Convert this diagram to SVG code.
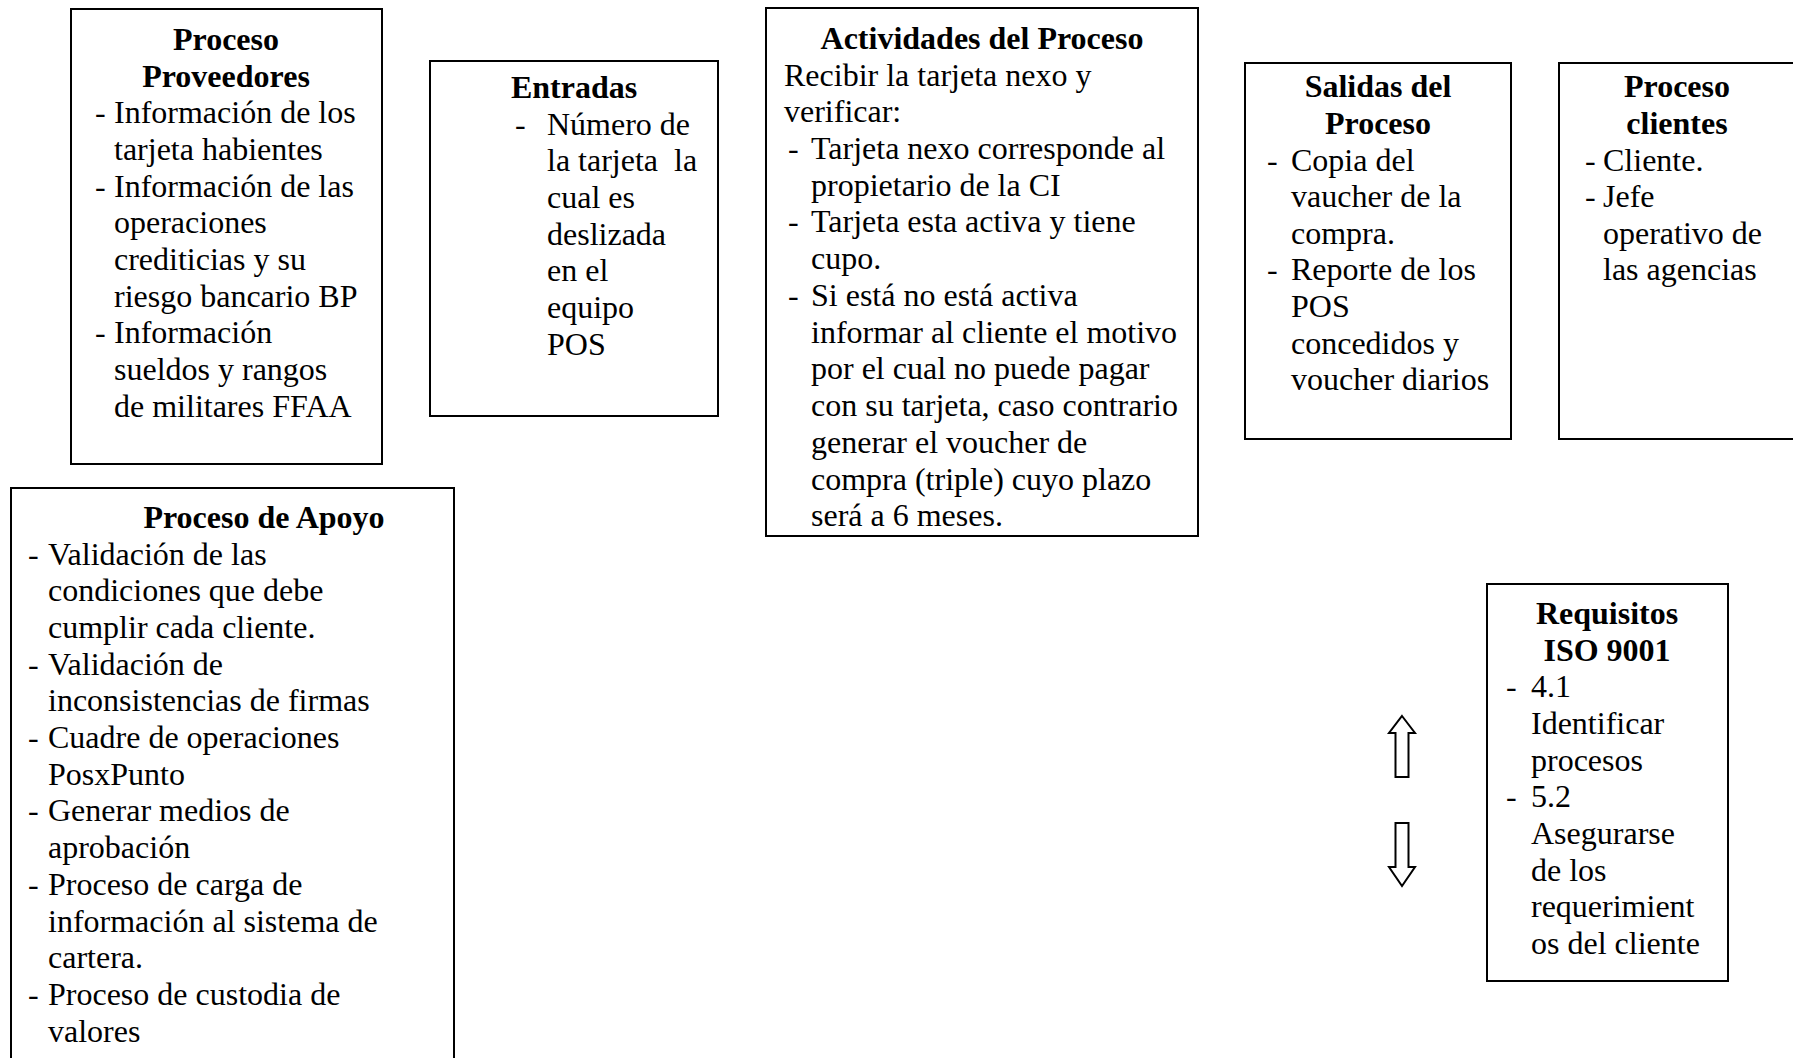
<svg xmlns="http://www.w3.org/2000/svg" width="1793" height="1058" viewBox="0 0 1793 1058">
  <style>
    .box { fill: #ffffff; stroke: #000000; stroke-width: 2; }
    text { font-family: "Liberation Serif", "Times New Roman", serif; font-size: 32px; fill: #000000; }
    .h { font-weight: bold; text-anchor: middle; }
    .arrow { fill: #ffffff; stroke: #000000; stroke-width: 2; stroke-linejoin: miter; }
  </style>
  <rect width="1793" height="1058" fill="#ffffff"/>

  <!-- Proceso Proveedores -->
  <g id="proveedores">
    <rect class="box" x="71" y="9" width="311" height="455"/>
    <text class="h" x="226" y="50">Proceso</text>
    <text class="h" x="226" y="87">Proveedores</text>
    <text x="95" y="123">-</text><text x="114" y="123">Información de los</text>
    <text x="114" y="160">tarjeta habientes</text>
    <text x="95" y="197">-</text><text x="114" y="197">Información de las</text>
    <text x="114" y="233">operaciones</text>
    <text x="114" y="270">crediticias y su</text>
    <text x="114" y="307">riesgo bancario BP</text>
    <text x="95" y="343">-</text><text x="114" y="343">Información</text>
    <text x="114" y="380">sueldos y rangos</text>
    <text x="114" y="417">de militares FFAA</text>
  </g>

  <!-- Entradas -->
  <g id="entradas">
    <rect class="box" x="430" y="61" width="288" height="355"/>
    <text class="h" x="574" y="98">Entradas</text>
    <text x="515" y="135">-</text><text x="547" y="135">Número de</text>
    <text x="547" y="171">la tarjeta&#160; la</text>
    <text x="547" y="208">cual es</text>
    <text x="547" y="245">deslizada</text>
    <text x="547" y="281">en el</text>
    <text x="547" y="318">equipo</text>
    <text x="547" y="355">POS</text>
  </g>

  <!-- Actividades del Proceso -->
  <g id="actividades">
    <rect class="box" x="766" y="8" width="432" height="528"/>
    <text class="h" x="982" y="49">Actividades del Proceso</text>
    <text x="784" y="86">Recibir la tarjeta nexo y</text>
    <text x="784" y="122">verificar:</text>
    <text x="788" y="159">-</text><text x="811" y="159">Tarjeta nexo corresponde al</text>
    <text x="811" y="196">propietario de la CI</text>
    <text x="788" y="232">-</text><text x="811" y="232">Tarjeta esta activa y tiene</text>
    <text x="811" y="269">cupo.</text>
    <text x="788" y="306">-</text><text x="811" y="306">Si está no está activa</text>
    <text x="811" y="343">informar al cliente el motivo</text>
    <text x="811" y="379">por el cual no puede pagar</text>
    <text x="811" y="416">con su tarjeta, caso contrario</text>
    <text x="811" y="453">generar el voucher de</text>
    <text x="811" y="490">compra (triple) cuyo plazo</text>
    <text x="811" y="526">será a 6 meses.</text>
  </g>

  <!-- Salidas del Proceso -->
  <g id="salidas">
    <rect class="box" x="1245" y="63" width="266" height="376"/>
    <text class="h" x="1378" y="97">Salidas del</text>
    <text class="h" x="1378" y="134">Proceso</text>
    <text x="1267" y="171">-</text><text x="1291" y="171">Copia del</text>
    <text x="1291" y="207">vaucher de la</text>
    <text x="1291" y="244">compra.</text>
    <text x="1267" y="280">-</text><text x="1291" y="280">Reporte de los</text>
    <text x="1291" y="317">POS</text>
    <text x="1291" y="354">concedidos y</text>
    <text x="1291" y="390">voucher diarios</text>
  </g>

  <!-- Proceso clientes -->
  <g id="clientes">
    <rect class="box" x="1559" y="63" width="237" height="376"/>
    <text class="h" x="1677" y="97">Proceso</text>
    <text class="h" x="1677" y="134">clientes</text>
    <text x="1585" y="171">-</text><text x="1603" y="171">Cliente.</text>
    <text x="1585" y="207">-</text><text x="1603" y="207">Jefe</text>
    <text x="1603" y="244">operativo de</text>
    <text x="1603" y="280">las agencias</text>
  </g>

  <!-- Proceso de Apoyo -->
  <g id="apoyo">
    <rect class="box" x="11" y="488" width="443" height="600"/>
    <text class="h" x="264" y="528">Proceso de Apoyo</text>
    <text x="28" y="565">-</text><text x="48" y="565">Validación de las</text>
    <text x="48" y="601">condiciones que debe</text>
    <text x="48" y="638">cumplir cada cliente.</text>
    <text x="28" y="675">-</text><text x="48" y="675">Validación de</text>
    <text x="48" y="711">inconsistencias de firmas</text>
    <text x="28" y="748">-</text><text x="48" y="748">Cuadre de operaciones</text>
    <text x="48" y="785">PosxPunto</text>
    <text x="28" y="821">-</text><text x="48" y="821">Generar medios de</text>
    <text x="48" y="858">aprobación</text>
    <text x="28" y="895">-</text><text x="48" y="895">Proceso de carga de</text>
    <text x="48" y="932">información al sistema de</text>
    <text x="48" y="968">cartera.</text>
    <text x="28" y="1005">-</text><text x="48" y="1005">Proceso de custodia de</text>
    <text x="48" y="1042">valores</text>
  </g>

  <!-- Requisitos ISO 9001 -->
  <g id="requisitos">
    <rect class="box" x="1487" y="584" width="241" height="397"/>
    <text class="h" x="1607" y="624">Requisitos</text>
    <text class="h" x="1607" y="661">ISO 9001</text>
    <text x="1506" y="697">-</text><text x="1531" y="697">4.1</text>
    <text x="1531" y="734">Identificar</text>
    <text x="1531" y="771">procesos</text>
    <text x="1506" y="807">-</text><text x="1531" y="807">5.2</text>
    <text x="1531" y="844">Asegurarse</text>
    <text x="1531" y="881">de los</text>
    <text x="1531" y="917">requerimient</text>
    <text x="1531" y="954">os del cliente</text>
  </g>

  <!-- block arrows -->
  <g id="connectors">
    <path class="arrow" d="M1402 716 L1415 733 L1408.5 733 L1408.5 777 L1395.5 777 L1395.5 733 L1389 733 Z"/>
    <path class="arrow" d="M1395.5 823 L1408.5 823 L1408.5 867 L1415 867 L1402 886 L1389 867 L1395.5 867 Z"/>
  </g>
</svg>
